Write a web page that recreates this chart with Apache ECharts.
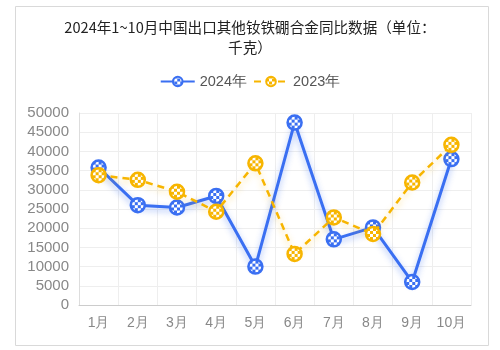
<!DOCTYPE html>
<html><head><meta charset="utf-8">
<script src="https://cdn.jsdelivr.net/npm/echarts@6/dist/echarts.min.js"></script>
<style>html,body{margin:0;padding:0;background:#fff}#c{width:500px;height:350px}</style>
</head><body><div id="c"></div>
<script>
const categories = ['1月','2月','3月','4月','5月','6月','7月','8月','9月','10月'];
const values2024 = [35800, 26000, 25400, 28400, 10000, 47500, 17100, 20200, 6000, 38000];
const values2023 = [33800, 32600, 29500, 24300, 36900, 13300, 22800, 18500, 31900, 41700];
const yTicks = [0, 5000, 10000, 15000, 20000, 25000, 30000, 35000, 40000, 45000, 50000];
const titleText = '2024年1~10月中国出口其他钕铁硼合金同比数据（单位：\n千克）';

function checker(color){
  const c = document.createElement('canvas'); c.width = 6; c.height = 6;
  const g = c.getContext('2d');
  g.fillStyle = '#ffffff'; g.fillRect(0,0,6,6);
  g.fillStyle = color; g.fillRect(0,0,3,3); g.fillRect(3,3,3,3);
  return c;
}
const SYM = 14;
function pattern(color){
  return {image: checker(color), repeat:'repeat', scaleX: 2/SYM, scaleY: 2/SYM, x: 0, y: 0};
}
const BLUE = '#3a6ff2', YEL = '#f7b500';
const chart = echarts.init(document.getElementById('c'));
chart.setOption({
  animation: false,
  graphic: [{type:'rect', shape:{x:15.5,y:6.5,width:473,height:339}, style:{fill:'none', stroke:'#d9d9d9', lineWidth:1}}],
  title: {text: titleText, left: 'center', top: 12, textStyle:{fontSize:14.6, fontWeight:'normal', color:'#222', lineHeight:20, fontFamily:'"Noto Sans CJK SC", sans-serif'}},
  legend: {top: 69, left:'center', itemWidth: 34, itemHeight: 12, itemGap: 6, textStyle:{fontSize:14.5, color:'#555'},
    data:[{name:'2024年'},{name:'2023年'}]},
  grid: {left: 79, right: 29, top: 113, bottom: 45},
  xAxis: {type:'category', data: categories, boundaryGap: true,
    axisLine:{lineStyle:{color:'#ccc'}}, axisTick:{show:false},
    axisLabel:{color:'#888', fontSize:14, margin:11},
    splitLine:{show:true, lineStyle:{color:'#eee'}}},
  yAxis: {type:'value', min: yTicks[0], max: yTicks[yTicks.length-1], interval: 5000,
    axisLine:{show:true, lineStyle:{color:'#ddd'}}, axisTick:{show:false},
    axisLabel:{color:'#888', fontSize:15, margin:10, formatter: v => String(v)},
    splitLine:{lineStyle:{color:'#eee'}}},
  series: [
    {name:'2024年', type:'line', data: values2024, symbol:'circle', symbolSize:SYM, z:3,
      lineStyle:{color:BLUE, width:3, shadowColor:'rgba(58,111,242,0.45)', shadowBlur:6, shadowOffsetY:3},
      itemStyle:{color: pattern(BLUE), borderColor:BLUE, borderWidth:2.5}},
    {name:'2023年', type:'line', data: values2023, symbol:'circle', symbolSize:SYM, z:4,
      lineStyle:{color:YEL, width:2.5, type:[7,5], shadowColor:'rgba(247,181,0,0.45)', shadowBlur:6, shadowOffsetY:3},
      itemStyle:{color: pattern(YEL), borderColor:YEL, borderWidth:2.5}}
  ]
});
</script></body></html>
